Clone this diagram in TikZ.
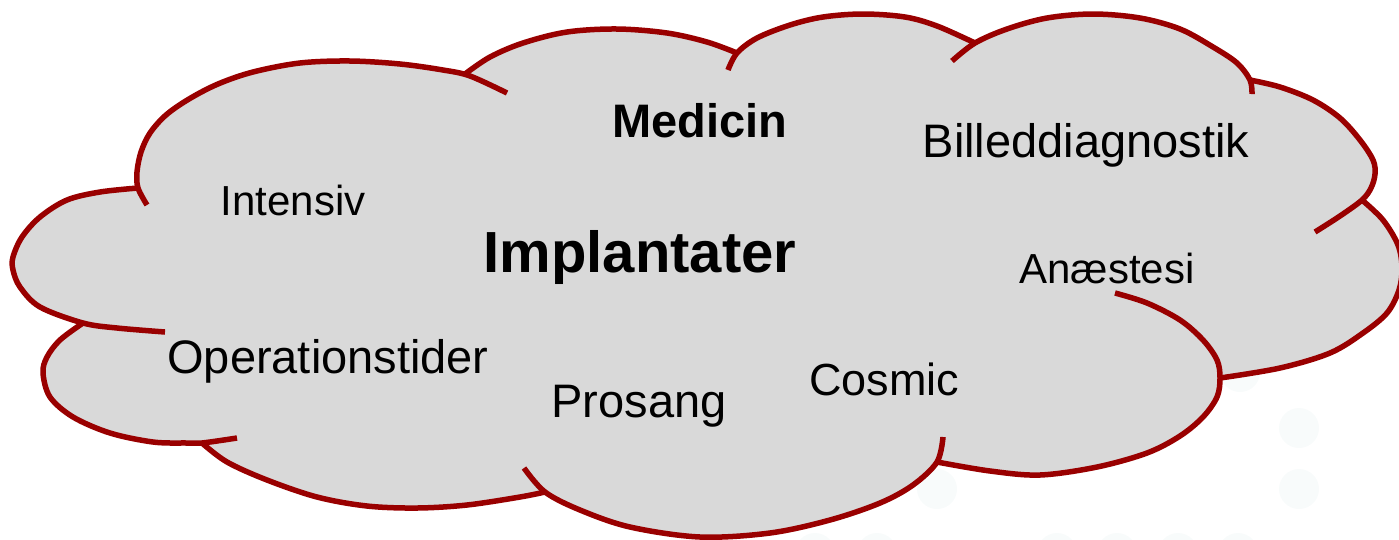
\documentclass[tikz,border=0pt]{standalone}
\usepackage{fontspec}
\setmainfont{Liberation Sans}
\definecolor{cloudred}{HTML}{990000}
\definecolor{cloudfill}{HTML}{D9D9D9}
\definecolor{dotc}{HTML}{F8FBFB}
\tikzset{
  lobe/.style={draw=cloudred, line width=5.5pt, line join=round},
  lbl/.style={anchor=base, inner sep=0pt, text=black},
  bgdot/.style={fill=dotc},
  sm/.style={smooth, tension=0.55},
}
\newcommand{\fs}[1]{\fontsize{#1}{#1}\selectfont}
% lobe point lists (pixel coordinates, y downwards)
\newcommand{\lobeA}{(147,205) (138,188) (137,172) (141,152) (150,133) (166,115) (189,99) (218,84) (253,72) (300,63) (350,61) (400,64) (443,70) (470,76) (507,93)}
\newcommand{\lobeB}{(465,74) (490,57) (523,43) (567,32) (617,29) (667,33) (707,42) (737,53)}
\newcommand{\lobeC}{(728,70) (737,53) (757,38) (790,25) (823,17) (863,14) (905,17) (937,26) (975,43)}
\newcommand{\lobeD}{(952,61) (975,43) (1007,29) (1047,18) (1093,14) (1140,18) (1180,29) (1213,47) (1237,63) (1250,80) (1252,94)}
\newcommand{\lobeE}{(1250,80) (1280,87) (1313,100) (1340,118) (1360,140) (1373,160) (1375,174) (1371,188) (1362,200) (1340,216) (1315,232)}
\newcommand{\lobeF}{(1362,200) (1383,220) (1398,245) (1402,268) (1399,290) (1387,313) (1363,333) (1330,353) (1280,368) (1220,378)}
\newcommand{\lobeG}{(1115,293) (1147,303) (1180,320) (1203,340) (1217,360) (1220,378) (1217,397) (1203,417) (1180,436) (1147,453) (1097,467) (1040,475) (990,471) (937,462)}
\newcommand{\lobeH}{(943,437) (937,462) (913,485) (880,503) (830,520) (770,533) (700,537) (630,527) (580,510) (545,492) (524,468)}
\newcommand{\lobeI}{(545,492) (520,497) (467,505) (417,508) (367,506) (317,497) (267,480) (227,462) (202,443)}
\newcommand{\lobeJ}{(237,438) (202,443) (187,443) (153,442) (110,433) (73,417) (50,397) (43,373) (47,357) (60,340) (83,323)}
\newcommand{\lobeK}{(165,332) (117,328) (83,323) (40,307) (20,287) (13,270) (13,257) (22,237) (40,217) (67,200) (100,192) (138,188)}
\begin{document}
\begin{tikzpicture}[x=1pt, y=-1pt]
\clip (0,0) rectangle (1399,539);
\useasboundingbox (0,0) rectangle (1399,539);
% faint background dots
\foreach \p in {(1299,428),(1299,489),(937,489),(1240,372),(815,553),(877,553),(1057,553),(1117,553),(1178,553),(1238,553)}
  \fill[bgdot] \p circle[radius=20pt];
% cloud fill
\fill[cloudfill]
  plot[sm] coordinates {\lobeA}
  -- plot[sm] coordinates {\lobeB}
  -- plot[sm] coordinates {\lobeC}
  -- plot[sm] coordinates {\lobeD}
  -- plot[sm] coordinates {\lobeE}
  -- plot[sm] coordinates {\lobeF}
  -- plot[sm] coordinates {\lobeG}
  -- plot[sm] coordinates {\lobeH}
  -- plot[sm] coordinates {\lobeI}
  -- plot[sm] coordinates {\lobeJ}
  -- plot[sm] coordinates {\lobeK}
  -- cycle;
% cloud outline lobes
\foreach \L in {\lobeA,\lobeB,\lobeC,\lobeD,\lobeE,\lobeF,\lobeG,\lobeH,\lobeI,\lobeJ,\lobeK}
  \draw[lobe] plot[sm] coordinates {\L};
% labels
\node[lbl, font=\fs{47}\bfseries] (medicin) at (700,137) {Medicin};
\node[lbl, font=\fs{47}] (billed) at (1086,157) {Billeddiagnostik};
\node[lbl, font=\fs{42}] (intensiv) at (293,215) {Intensiv};
\node[lbl, font=\fs{58}\bfseries] (implantater) at (640,272) {Implantater};
\node[lbl, font=\fs{42}] (anaestesi) at (1107,283) {Anæstesi};
\node[lbl, font=\fs{47}] (operation) at (328,373) {Operationstider};
\node[lbl, font=\fs{47}] (prosang) at (639,417) {Prosang};
\node[lbl, font=\fs{45}] (cosmic) at (884,395) {Cosmic};
\end{tikzpicture}
\end{document}
